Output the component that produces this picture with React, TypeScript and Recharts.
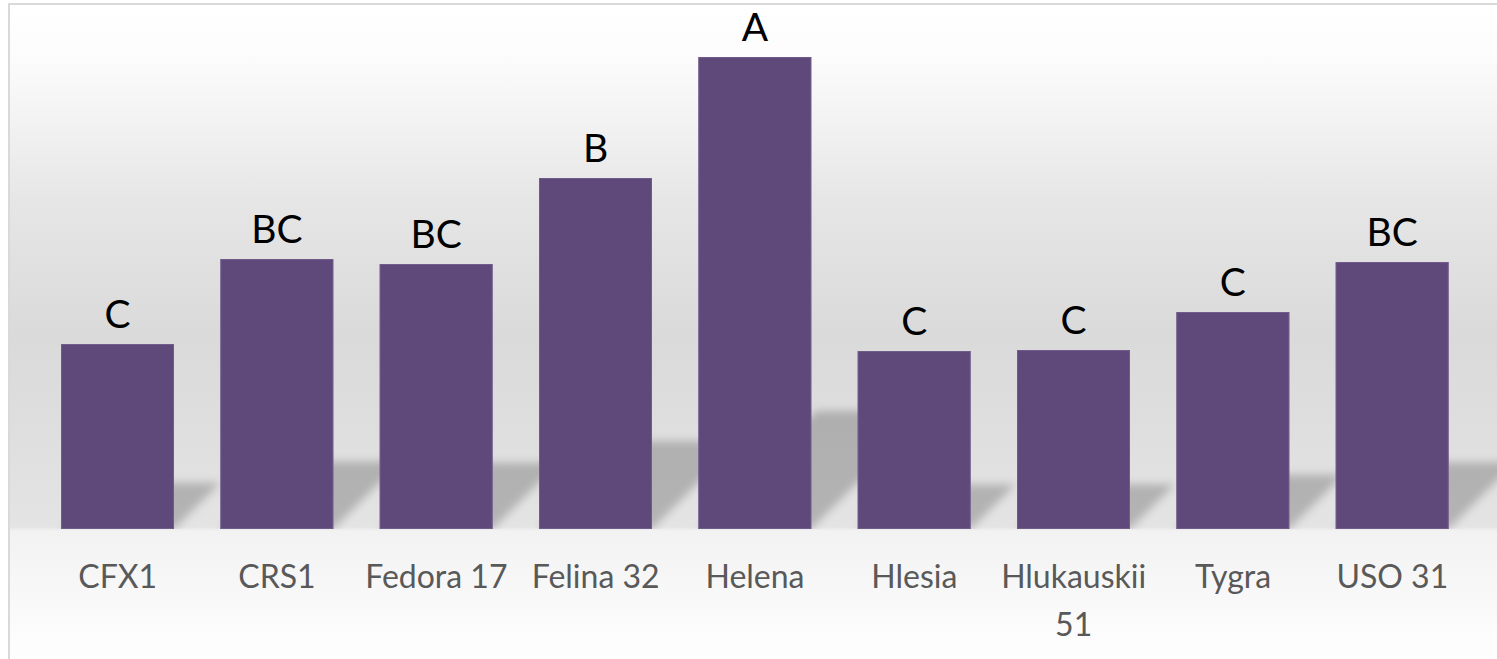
import { BarChart, Bar, XAxis, YAxis, LabelList } from "recharts";

const categories = ["CFX1", "CRS1", "Fedora 17", "Felina 32", "Helena", "Hlesia", "Hlukauskii 51", "Tygra", "USO 31"];
const values = [18.5, 27.0, 26.5, 35.1, 47.2, 17.8, 17.9, 21.7, 26.7];
const groups = ["C", "BC", "BC", "B", "A", "C", "C", "C", "BC"];

const data = categories.map((name, i) => ({ name, value: values[i], grp: groups[i] }));

const BAR = "#5f497a";

// bar with a perspective shadow thrown back and to the right
const ShadowBar = (props: any) => {
  const { x, y, width, height, index } = props;
  if (!height) return null;
  const base = y + height;
  const sh = height * 0.25;
  const fid = `blur${index}`;
  const cid = `clip${index}`;
  return (
    <g>
      <defs>
        <filter id={fid} x="-50%" y="-50%" width="200%" height="200%">
          <feGaussianBlur stdDeviation="4" />
        </filter>
        <clipPath id={cid}>
          <rect x={x - 20} y={base - sh - 40} width={width + sh + 60} height={sh + 40} />
        </clipPath>
      </defs>
      <g clipPath={`url(#${cid})`}>
        <polygon
          points={`${x},${base} ${x + width},${base} ${x + width + sh},${base - sh} ${x + sh},${base - sh}`}
          fill="#000"
          fillOpacity={0.21}
          filter={`url(#${fid})`}
        />
      </g>
      <rect x={x} y={y} width={width} height={height} fill={BAR} />
      <rect x={x + 0.5} y={y + 0.5} width={width - 1} height={height - 1} fill="none" stroke="#7c6896" strokeOpacity={0.6} strokeWidth={1} />
    </g>
  );
};

const CatTick = ({ x, y, payload }: any) => {
  const label: string = payload.value;
  let lines = [label];
  if (label.length > 10 && label.includes(" ")) {
    const k = label.lastIndexOf(" ");
    lines = [label.slice(0, k), label.slice(k + 1)];
  }
  return (
    <text x={x} y={y} textAnchor="middle" fill="#595959" fontSize={32} fontFamily="Lato">
      {lines.map((l, i) => (
        <tspan key={i} x={x} dy={i === 0 ? 59 : 48}>{l}</tspan>
      ))}
    </text>
  );
};

export default function App() {
  return (
    <div style={{ position: "fixed", left: 0, top: 0, width: 1497, height: 659, overflow: "hidden", background: "#fff" }}>
      <div
        style={{
          position: "absolute", left: 8, top: 3, width: 1500, height: 700,
          border: "2px solid #d9d9d9",
          background:
            "linear-gradient(to bottom, #ffffff 0px, #fcfcfc 50px, #f5f5f5 100px, #e6e6e6 195px, #dadada 330px, #dedede 420px, #e4e4e4 522px, #f2f2f2 526px, #fdfdfd 640px, #ffffff 700px)",
        }}
      />
      <div style={{ position: "absolute", left: 0, top: 0 }}>
        <BarChart width={1497} height={659} data={data} margin={{ top: 29, right: 25, bottom: 0, left: 38 }}>
          <XAxis
            dataKey="name"
            height={130}
            axisLine={false}
            tickLine={false}
            tickSize={0}
            tickMargin={0}
            interval={0}
            tick={<CatTick />}
          />
          <YAxis hide domain={[0, 50]} />
          <Bar dataKey="value" barSize={113} shape={<ShadowBar />} isAnimationActive={false}>
            <LabelList dataKey="grp" position="top" offset={16} fill="#000" fontSize={39} fontFamily="Lato" />
          </Bar>
        </BarChart>
      </div>
    </div>
  );
}
